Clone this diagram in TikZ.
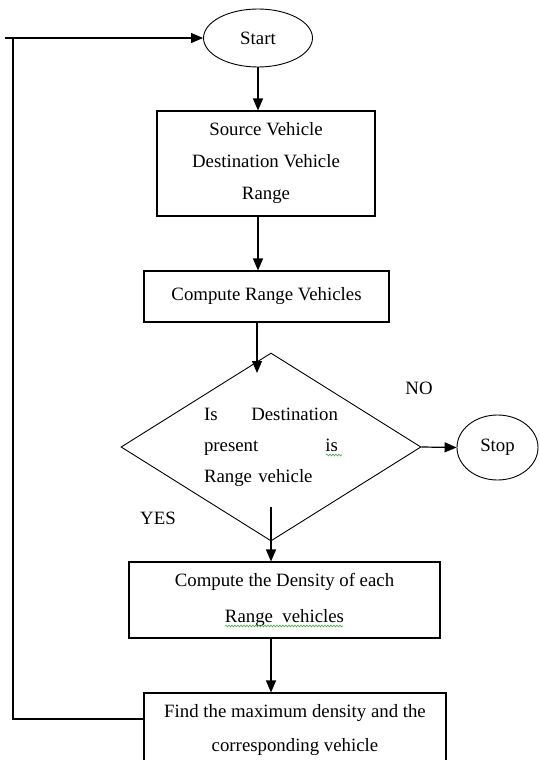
\documentclass[tikz,border=0pt]{standalone}
\usepackage{fontspec}
\setmainfont{Liberation Serif}
\usetikzlibrary{shapes.geometric,arrows.meta,decorations.pathmorphing}
\definecolor{spellgreen}{RGB}{70,170,70}
\tikzset{
	procbox/.style={draw, rectangle, line width=1.1pt, inner sep=0pt, align=center, font=\fontsize{18.8}{32}\selectfont},
	termnode/.style={draw, ellipse, line width=0.9pt, inner sep=0pt, font=\fontsize{18.8}{22}\selectfont},
	decide/.style={draw, diamond, shape aspect=1.6, line width=0.9pt, inner sep=0pt, minimum width=300pt, minimum height=188pt},
	arr/.style={-{Triangle[length=12pt,width=10pt]}, line width=1.2pt},
	lbl/.style={font=\fontsize{18.8}{22}\selectfont},
	spellmark/.style={spellgreen, line width=0.6pt, decorate, decoration={snake, amplitude=0.9pt, segment length=3pt}}
}
\begin{document}
\begin{tikzpicture}[x=1pt, y=-1pt]
	\useasboundingbox (0, 0) rectangle (540, 760);
	\clip (0, 0) rectangle (540, 760);

	\node[termnode, minimum width=109pt, minimum height=58pt] (start) at (258, 38) {Start};
	\node[procbox, minimum width=218pt, minimum height=105pt] (srcbox) at (266, 163.5) {Source Vehicle\\Destination Vehicle\\Range};
	\node[procbox, minimum width=245pt, minimum height=51pt] (rangebox) at (266.5, 296.5) {Compute Range Vehicles};
	\node[decide, text width=134pt, align=left, font=\fontsize{18.8}{31}\selectfont] (check) at (271, 447)
		{Is\hfill Destination\\present\hfill is\\Range vehicle};
	\node[termnode, minimum width=81pt, minimum height=65pt] (stop) at (497.5, 447.5) {Stop};
	\node[procbox, minimum width=311pt, minimum height=76pt, font=\fontsize{18.8}{36}\selectfont] (densbox) at (284.5, 600)
		{Compute the Density of each\\Range\ \ vehicles};
	\node[procbox, minimum width=302pt, minimum height=74pt, font=\fontsize{18.8}{34}\selectfont] (findbox) at (295, 730)
		{Find the maximum density and the\\corresponding vehicle};

	\node[lbl] (nolabel) at (419, 388) {NO};
	\node[lbl] (yeslabel) at (158, 518) {YES};

	% spell-check squiggles
	\draw[spellmark] (326, 455) -- (342, 455);
	\draw[spellmark] (225, 626) -- (343, 626);

	% arrows down the middle
	\coordinate (dtip) at (257, 373);
	\coordinate (ytail) at (271, 507);
	\draw[arr] (start.south) -- (start.south |- srcbox.north);
	\draw[arr] (srcbox.south -| start.south) -- (rangebox.north -| start.south);
	\draw[arr] (rangebox.south -| dtip) -- (dtip);
	\draw[arr] (check.east) -- (stop.west);
	\draw[arr] (ytail) -- (ytail |- densbox.north);
	\draw[arr] (densbox.south -| ytail) -- (findbox.north -| ytail);

	% loop back to start
	\coordinate (looptop) at (13, 38);
	\coordinate (loopend) at (5, 38);
	\coordinate (loopbot) at (13, 719);
	\draw[line width=1.1pt] (findbox.west |- loopbot) -- (loopbot) -- (looptop);
	\draw[arr] (loopend) -- (start.west);
\end{tikzpicture}
\end{document}
